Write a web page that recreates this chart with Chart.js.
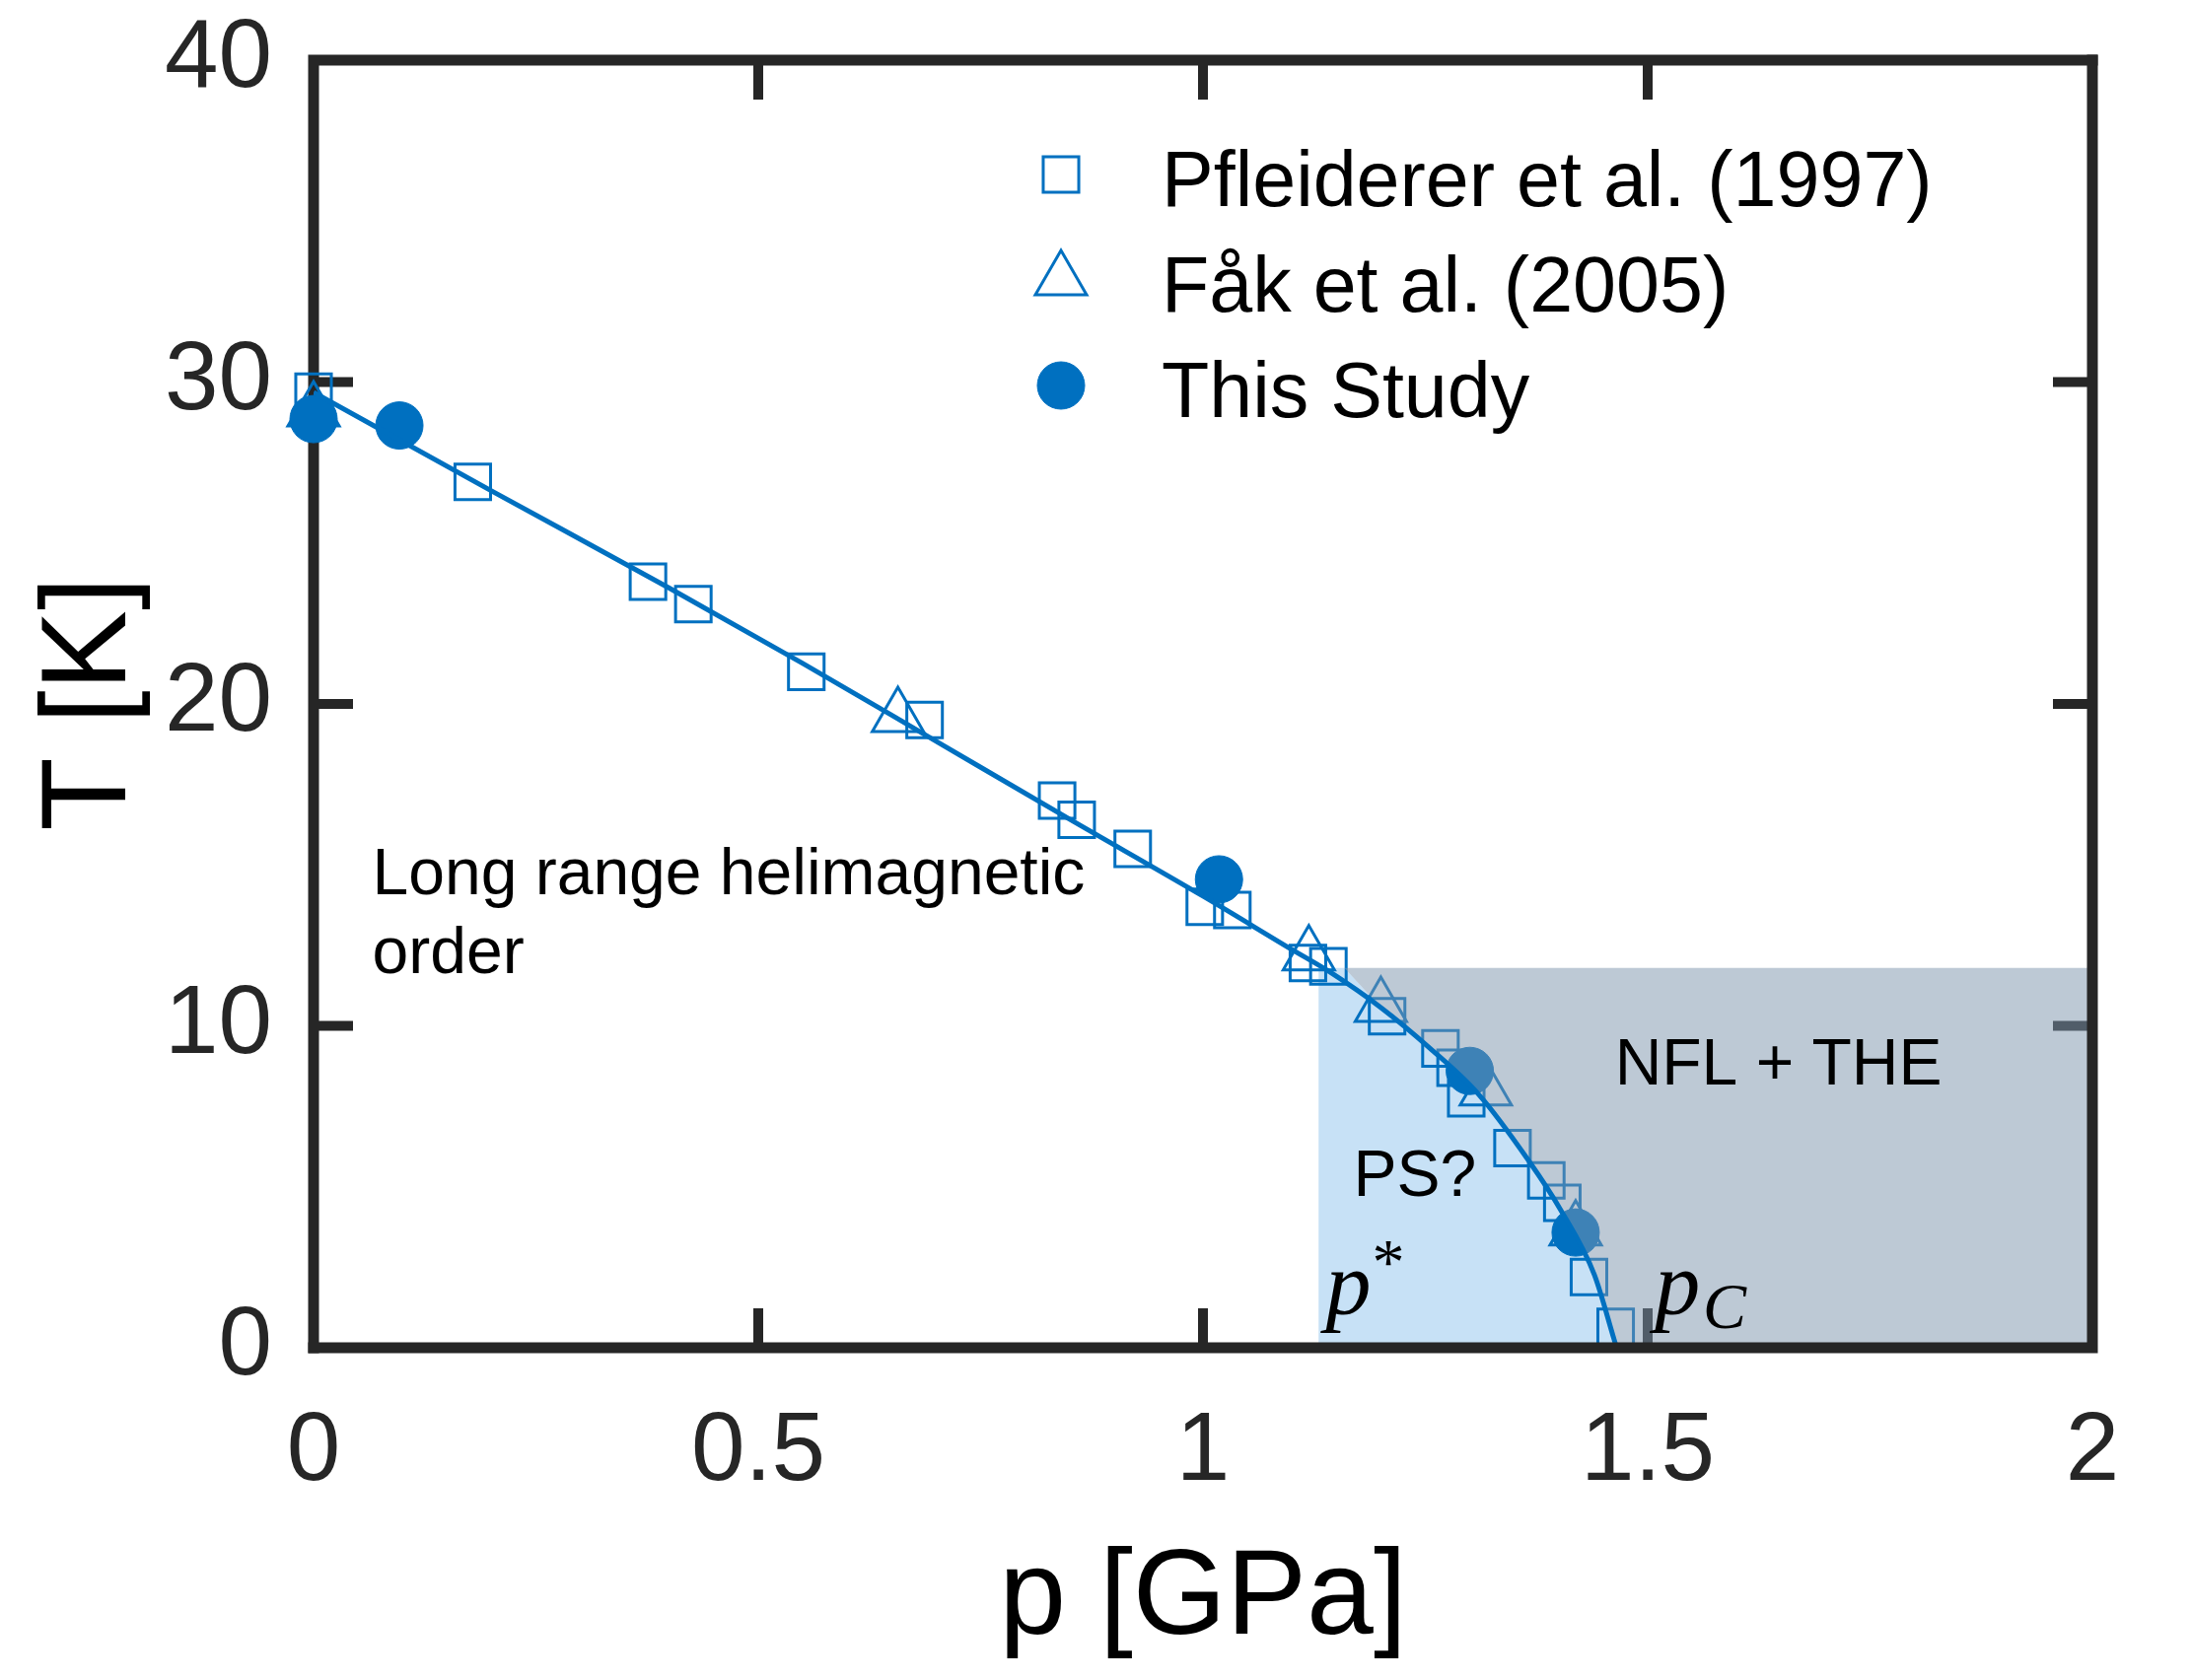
<!DOCTYPE html>
<html>
<head>
<meta charset="utf-8">
<title>MnSi phase diagram</title>
<script src="https://cdn.jsdelivr.net/npm/chart.js@4.4.1/dist/chart.umd.min.js"></script>
<style>
  html, body { margin: 0; padding: 0; background: #ffffff; }
  #wrap { width: 2222px; height: 1704px; }
</style>
</head>
<body>
<div id="wrap"><canvas id="phaseChart" width="2222" height="1704"></canvas></div>
<script>
// ---- data ----
// Pfleiderer et al. (1997), open squares
const pfleidererP = [0.0, 0.179, 0.376, 0.427, 0.554, 0.687, 0.836, 0.858, 0.921, 1.002, 1.033,
                     1.118, 1.141, 1.207, 1.267, 1.284, 1.296, 1.348, 1.386, 1.404, 1.434, 1.464];
const pfleidererT = [29.7, 26.9, 23.8, 23.1, 21.0, 19.5, 17.0, 16.4, 15.5, 13.7, 13.6,
                     11.95, 11.85, 10.3, 9.3, 8.7, 7.75, 6.2, 5.2, 4.5, 2.2, 0.65];

// Fak et al. (2005), open triangles
const fakP = [0.0, 0.657, 1.119, 1.200, 1.318, 1.419];
const fakT = [29.1, 19.6, 12.2, 10.6, 8.0, 3.65];

// This study, filled circles
const studyP = [0.0, 0.0965, 1.018, 1.300, 1.419];
const studyT = [28.85, 28.65, 14.55, 8.6, 3.58];

// solid guide line T_C(p)
const fitP = [0, 0.2, 0.4, 0.55, 0.7, 0.85, 1.0, 1.1, 1.144, 1.2, 1.255, 1.31, 1.366, 1.402, 1.44, 1.462, 1.465];
const fitT = [29.68, 26.62, 23.6, 21.26, 18.84, 16.42, 14.03, 12.37, 11.65, 10.57, 9.31, 7.87, 5.82, 4.29, 2.27, 0.28, 0];

// shaded regions
const pStar = 1.13;        // left edge of PS? region
const regionEdgeP = 1.159; // where NFL region starts at the top
const regionTopT = 11.8;   // top of shaded regions
const pEnd = 2;

// axes
const xTickValues = [0, 0.5, 1, 1.5, 2];
const xTickLabels = ['0', '0.5', '1', '1.5', '2'];
const yTickValues = [0, 10, 20, 30, 40];
const yTickLabels = ['0', '10', '20', '30', '40'];

const blue = '#0070c0';
const axisColor = '#262626';
const sans = "'Liberation Sans', Arial, sans-serif";
const serif = "'Liberation Serif', 'Times New Roman', serif";

const toPoints = (xs, ys) => xs.map((v, i) => ({x: v, y: ys[i]}));
const fitPoints = toPoints(fitP, fitT);
const edge = fitPoints.filter(pt => pt.x > regionEdgeP);

const psRegion = [{x: pStar, y: regionTopT}, {x: regionEdgeP, y: regionTopT}, ...edge, {x: pStar, y: 0}];
const nflRegion = [{x: regionEdgeP, y: regionTopT}, {x: pEnd, y: regionTopT}, {x: pEnd, y: 0}, ...edge.slice().reverse()];

// ---- plugins: box/ticks, labels, legend ----
const frameAndTicks = {
  id: 'frameAndTicks',
  beforeDatasetsDraw(chart) {
    const {ctx, chartArea: a, scales: {x, y}} = chart;
    ctx.save();
    ctx.strokeStyle = axisColor;
    ctx.lineWidth = 10;
    ctx.beginPath();
    xTickValues.slice(1, -1).forEach(v => {
      const px = x.getPixelForValue(v);
      ctx.moveTo(px, a.bottom); ctx.lineTo(px, a.bottom - 40);
      ctx.moveTo(px, a.top); ctx.lineTo(px, a.top + 40);
    });
    yTickValues.slice(1, -1).forEach(v => {
      const py = y.getPixelForValue(v);
      ctx.moveTo(a.left, py); ctx.lineTo(a.left + 40, py);
      ctx.moveTo(a.right, py); ctx.lineTo(a.right - 40, py);
    });
    ctx.stroke();
    ctx.lineWidth = 11;
    ctx.lineCap = 'square';
    ctx.beginPath();
    ctx.moveTo(a.left, a.bottom);
    ctx.lineTo(a.left, a.top);
    ctx.lineTo(a.right, a.top);
    ctx.stroke();
    ctx.restore();
  },
  afterDatasetsDraw(chart) {
    const {ctx, chartArea: a} = chart;
    ctx.save();
    ctx.strokeStyle = axisColor;
    ctx.lineWidth = 11;
    ctx.lineCap = 'square';
    ctx.beginPath();
    ctx.moveTo(a.left, a.bottom);
    ctx.lineTo(a.right, a.bottom);
    ctx.lineTo(a.right, a.top);
    ctx.stroke();
    ctx.restore();
  }
};

const annotations = {
  id: 'annotations',
  afterDatasetsDraw(chart) {
    const {ctx, scales: {x, y}} = chart;
    const put = (text, p, t, font) => {
      ctx.font = font;
      ctx.fillText(text, x.getPixelForValue(p), y.getPixelForValue(t));
    };
    ctx.save();
    ctx.fillStyle = '#000000';
    ctx.textAlign = 'left';
    ctx.textBaseline = 'alphabetic';
    put('Long range helimagnetic', 0.066, 14.09, '66px ' + sans);
    put('order', 0.066, 11.64, '66px ' + sans);
    put('PS?', 1.169, 4.72, '66px ' + sans);
    put('NFL + THE', 1.463, 8.18, '66px ' + sans);
    put('p', 1.138, 1.04, 'italic 92px ' + serif);
    put('*', 1.19, 2.0, '66px ' + serif);
    put('p', 1.508, 1.04, 'italic 92px ' + serif);
    put('C', 1.562, 0.61, 'italic 66px ' + serif);
    ctx.restore();
  }
};

const legendBox = {
  id: 'legendBox',
  afterDraw(chart) {
    const {ctx} = chart;
    const items = chart.data.datasets.filter(d => d.inLegend);
    ctx.save();
    items.forEach((d, i) => {
      const cy = 177 + i * 107;
      ctx.fillStyle = d.backgroundColor;
      ctx.strokeStyle = d.borderColor;
      ctx.lineWidth = d.borderWidth;
      Chart.helpers.drawPoint(ctx, {pointStyle: d.pointStyle, radius: d.legendRadius, rotation: 0, borderWidth: d.borderWidth}, 1076, cy);
      ctx.fillStyle = '#000000';
      ctx.font = '79px ' + sans;
      ctx.textBaseline = 'alphabetic';
      ctx.fillText(d.label, 1178, cy + 32);
    });
    ctx.restore();
  }
};

new Chart(document.getElementById('phaseChart'), {
  type: 'scatter',
  data: {
    datasets: [
      {
        label: 'fit',
        data: fitPoints,
        showLine: true,
        borderColor: blue,
        borderWidth: 5,
        pointRadius: 0,
        cubicInterpolationMode: 'monotone',
        fill: false,
        order: 0
      },
      {
        label: 'NFL + THE',
        data: nflRegion,
        showLine: true,
        borderWidth: 0,
        borderColor: 'rgba(0,0,0,0)',
        backgroundColor: 'rgba(123,147,171,0.5)',
        fill: 'shape',
        pointRadius: 0,
        order: 1
      },
      {
        label: 'Pfleiderer et al. (1997)',
        inLegend: true,
        data: toPoints(pfleidererP, pfleidererT),
        pointStyle: 'rect',
        pointRadius: 25.5,
        legendRadius: 25.5,
        borderColor: blue,
        backgroundColor: 'rgba(0,0,0,0)',
        borderWidth: 3,
        clip: false,
        order: 4
      },
      {
        label: 'Fåk et al. (2005)',
        inLegend: true,
        data: toPoints(fakP, fakT),
        pointStyle: 'triangle',
        pointRadius: 30,
        legendRadius: 30,
        borderColor: blue,
        backgroundColor: 'rgba(0,0,0,0)',
        borderWidth: 3,
        clip: false,
        order: 3
      },
      {
        label: 'This Study',
        inLegend: true,
        data: toPoints(studyP, studyT),
        pointStyle: 'circle',
        pointRadius: 24,
        legendRadius: 24,
        borderColor: blue,
        backgroundColor: blue,
        borderWidth: 1,
        clip: false,
        order: 2
      },
      {
        label: 'PS?',
        data: psRegion,
        showLine: true,
        borderWidth: 0,
        borderColor: 'rgba(0,0,0,0)',
        backgroundColor: '#c7e1f6',
        fill: 'shape',
        pointRadius: 0,
        order: 5
      }
    ]
  },
  options: {
    responsive: false,
    devicePixelRatio: 1,
    animation: false,
    events: [],
    layout: { padding: { top: 61, right: 100, bottom: 0, left: 0 } },
    plugins: {
      legend: { display: false },
      tooltip: { enabled: false }
    },
    scales: {
      x: {
        type: 'linear',
        min: 0,
        max: 2,
        afterBuildTicks(scale) { scale.ticks = xTickValues.map(v => ({value: v})); },
        afterFit(scale) { scale.height = 337; scale.paddingLeft = 0; scale.paddingRight = 0; },
        grid: { display: false },
        border: { display: false },
        ticks: {
          padding: 40,
          color: axisColor,
          font: { family: sans, size: 98 },
          maxRotation: 0,
          callback: (v) => xTickLabels[xTickValues.indexOf(v)]
        },
        title: {
          display: true,
          text: 'p [GPa]',
          color: '#000000',
          font: { family: sans, size: 122 },
          padding: { top: 0, bottom: 7 }
        }
      },
      y: {
        type: 'linear',
        min: 0,
        max: 40,
        afterBuildTicks(scale) { scale.ticks = yTickValues.map(v => ({value: v})); },
        afterFit(scale) { scale.width = 318; scale.paddingTop = 0; scale.paddingBottom = 0; },
        grid: { display: false },
        border: { display: false },
        ticks: {
          padding: 34,
          color: axisColor,
          font: { family: sans, size: 98 },
          callback: (v) => yTickLabels[yTickValues.indexOf(v)]
        },
        title: {
          display: true,
          text: 'T [K]',
          color: '#000000',
          font: { family: sans, size: 122 },
          padding: { top: 20, bottom: 0 }
        }
      }
    }
  },
  plugins: [frameAndTicks, annotations, legendBox]
});
</script>
</body>
</html>
